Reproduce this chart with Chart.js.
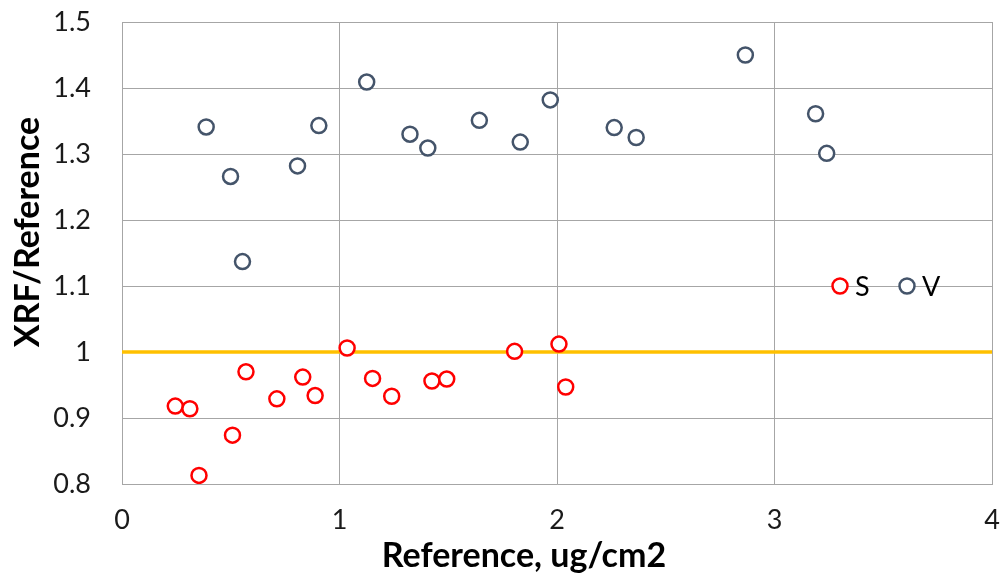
<!DOCTYPE html>
<html>
<head>
<meta charset="utf-8">
<script src="https://cdn.jsdelivr.net/npm/chart.js@4"></script>
<style>
  html, body { margin: 0; padding: 0; background: #fff; }
  #wrap { width: 1002px; height: 574px; position: relative; }
</style>
</head>
<body>
<div id="wrap"><canvas id="chart"></canvas></div>
<script>
// S series (red)
const sX = [0.245, 0.312, 0.354, 0.508, 0.570, 0.712, 0.831, 0.888, 1.035, 1.152, 1.240, 1.425, 1.493, 1.805, 2.009, 2.040];
const sY = [0.918, 0.914, 0.813, 0.874, 0.970, 0.929, 0.962, 0.934, 1.006, 0.960, 0.933, 0.956, 0.959, 1.001, 1.012, 0.947];

// V series (slate)
const vX = [0.387, 0.499, 0.554, 0.807, 0.905, 1.125, 1.324, 1.406, 1.643, 1.831, 1.969, 2.263, 2.364, 2.866, 3.189, 3.240];
const vY = [1.341, 1.266, 1.137, 1.282, 1.343, 1.409, 1.330, 1.309, 1.351, 1.318, 1.382, 1.340, 1.325, 1.450, 1.361, 1.301];

// reference line at ratio 1
const refX = [0, 4];
const refY = [1, 1];

const xTicks = [0, 1, 2, 3, 4];
const yTicks = [0.8, 0.9, 1, 1.1, 1.2, 1.3, 1.4, 1.5];

const seriesNames = ['S', 'V'];
const seriesColors = ['#FF0000', '#44546A'];

const FONT = 'Lato, "Liberation Sans", sans-serif';

function toPoints(xs, ys) {
    return xs.map((x, i) => ({ x: x, y: ys[i] }));
}

function markerStyle(color) {
    return {
        showLine: false,
        pointStyle: 'circle',
        pointRadius: 7.5,
        pointHoverRadius: 7.5,
        pointBorderWidth: 2.5,
        pointBorderColor: color,
        pointBackgroundColor: '#ffffff',
        borderColor: color,
        backgroundColor: '#ffffff',
        order: 0
    };
}

// keep the plot box fixed: drop the label overflow padding chart.js adds
function noScalePadding(scale) {
    scale.paddingTop = 0;
    scale.paddingBottom = 0;
    scale.paddingLeft = 0;
    scale.paddingRight = 0;
}

/** Axis titles and the in-plot legend, Excel style */
const decorations = {
    id: 'decorations',
    afterDraw(chart) {
        const ctx = chart.ctx;
        ctx.save();

        ctx.fillStyle = '#000';
        ctx.font = 'bold 34px ' + FONT;
        ctx.textAlign = 'center';
        ctx.textBaseline = 'middle';
        ctx.fillText('Reference, ug/cm2', 524, 556);

        ctx.translate(28, 232);
        ctx.rotate(-Math.PI / 2);
        ctx.fillText('XRF/Reference', 0, 0);
        ctx.restore();

        // legend: marker + label, sitting on the 1.1 gridline
        ctx.save();
        const ly = chart.scales.y.getPixelForValue(1.1);
        const lx = [840, 907];
        ctx.font = '27px ' + FONT;
        ctx.textAlign = 'left';
        ctx.textBaseline = 'middle';
        seriesNames.forEach((name, i) => {
            ctx.beginPath();
            ctx.arc(lx[i], ly, 7.5, 0, Math.PI * 2);
            ctx.fillStyle = '#ffffff';
            ctx.fill();
            ctx.lineWidth = 2.5;
            ctx.strokeStyle = seriesColors[i];
            ctx.stroke();
            ctx.fillStyle = '#000';
            ctx.fillText(name, lx[i] + 15, ly + 1);
        });
        ctx.restore();
    }
};

new Chart(document.getElementById('chart'), {
    type: 'scatter',
    data: {
        datasets: [
            {
                type: 'line',
                label: 'ref',
                data: toPoints(refX, refY),
                borderColor: '#FFC000',
                borderWidth: 3.5,
                pointRadius: 0,
                fill: false,
                order: 2
            },
            Object.assign({ label: seriesNames[0], data: toPoints(sX, sY) }, markerStyle(seriesColors[0])),
            Object.assign({ label: seriesNames[1], data: toPoints(vX, vY) }, markerStyle(seriesColors[1]))
        ]
    },
    options: {
        responsive: true,
        maintainAspectRatio: false,
        animation: false,
        layout: { padding: { top: 22, right: 10, left: 0, bottom: 0 } },
        plugins: {
            legend: { display: false },
            tooltip: { enabled: false }
        },
        scales: {
            x: {
                type: 'linear',
                min: 0, max: 4,
                afterBuildTicks: (scale) => { scale.ticks = xTicks.map(v => ({ value: v })); },
                afterFit: (scale) => { scale.height = 90; noScalePadding(scale); },
                grid: { color: '#A6A6A6', lineWidth: 1, drawTicks: false },
                border: { color: '#A6A6A6', width: 1 },
                ticks: {
                    color: '#1a1a1a', font: { family: FONT, size: 27 }, padding: 20,
                    maxRotation: 0, autoSkip: false,
                    callback: (v) => String(v)
                }
            },
            y: {
                type: 'linear',
                min: 0.8, max: 1.5,
                afterBuildTicks: (scale) => { scale.ticks = yTicks.map(v => ({ value: v })); },
                afterFit: (scale) => { scale.width = 122; noScalePadding(scale); },
                grid: { color: '#A6A6A6', lineWidth: 1, drawTicks: false },
                border: { color: '#A6A6A6', width: 1 },
                ticks: {
                    color: '#1a1a1a', font: { family: FONT, size: 27 }, padding: 31,
                    autoSkip: false,
                    callback: (v) => String(Math.round(v * 10) / 10)
                }
            }
        }
    },
    plugins: [decorations]
});
</script>
</body>
</html>
